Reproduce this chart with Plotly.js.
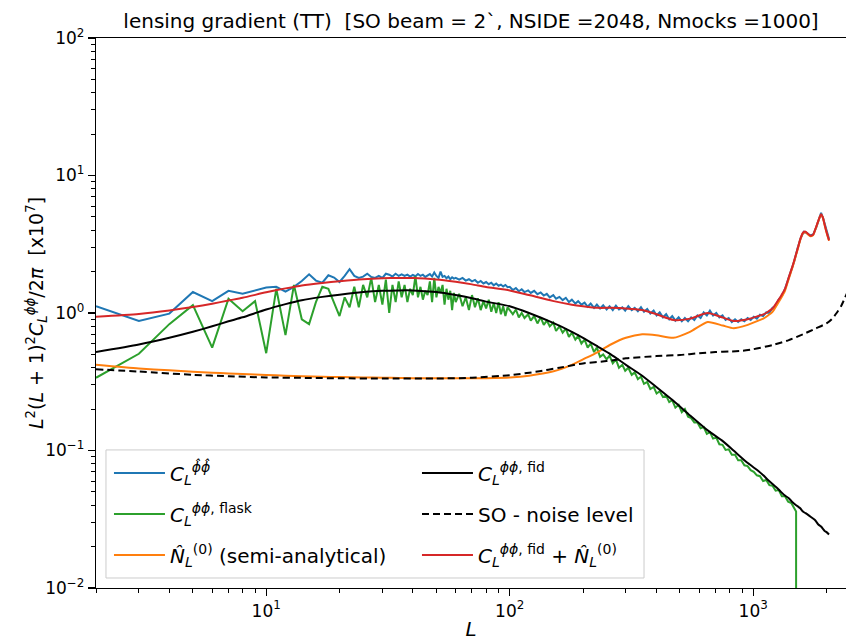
<!DOCTYPE html>
<html>
<head>
<meta charset="utf-8">
<script src="https://cdn.plot.ly/plotly-3.0.1.min.js"></script>
<style>
  html, body { margin: 0; padding: 0; background: #fff; }
  #chart { width: 846px; height: 641px; }
</style>
</head>
<body>
<div id="chart"></div>
<script>
// ---- multipoles of the measured spectra ----
const L_low = [2,3,4,5,6,7,8,9,10,11,12,13,14,15,16,17,18,19,20,21,22,23,24,25,26,27,28,29,30,
  31,32,33,34,35,36,37,38,39,40,41,42,43,44,45,46,47,48,49,50,51,52,53,54,55,56,57,58,59,60,
  62,64,66,68,70,72,74,76,78,80,82,84,86,88,90,92,94,96,98];
const L_high = [100,103,106,109,112,115,119,122,126,130,134,138,142,146,151,155,160,165,170,175,
  180,186,191,197,203,209,215,222,228,235,242,250,257,265,273,281,290,298,307,317,
  326,336,346,356,367,378,390,401,413,426,439,452,465,479,494,509,524,540,556,573,
  590,608,626,645,664,684,705,726,748,770,793,817,842,867,893,920,948,976,1005,1035,
  1066,1098,1131,1165,1200,1236,1273,1311,1351,1391,1433,1476,1520,1566,1613,1661,1711,1762,1815,1860,
  1900,1940,1980,2020,2048];

// reconstructed lensing spectrum  C_L^{phi-hat phi-hat}
const clpp_rec_low = [1.12,0.875,0.99,1.42,1.22,1.45,1.38,1.46,1.53,1.55,1.43,1.55,
  1.71,1.91,1.72,1.66,1.88,1.81,1.68,1.86,2.08,1.86,1.80,1.84,1.93,1.83,1.80,1.86,1.80,
  1.93,1.90,1.84,1.93,1.86,1.91,1.86,1.90,1.84,1.89,1.85,1.92,1.86,1.90,1.83,1.88,1.92,1.84,1.97,1.86,
  1.80,2.00,1.83,1.86,1.79,1.84,1.76,1.82,1.78,1.80,
  1.75,1.80,1.72,1.76,1.70,1.74,1.66,1.71,1.64,1.68,1.62,1.66,1.59,1.64,1.58,1.61,1.56,1.60,1.54];
const clpp_rec_high = [1.55,1.47,1.52,1.44,1.49,1.42,1.46,1.40,1.45,1.37,
  1.41,1.34,1.38,1.30,1.35,1.27,1.31,1.24,1.29,1.20,
  1.25,1.17,1.22,1.15,1.19,1.11,1.17,1.09,1.15,1.08,
  1.14,1.06,1.12,1.05,1.13,1.06,1.10,1.04,1.12,1.05,
  1.09,1.03,1.10,1.02,1.07,0.99,1.04,0.96,1.01,0.93,
  0.98,0.90,0.95,0.88,0.93,0.87,0.92,0.87,0.93,0.89,
  0.96,0.92,1.01,0.96,1.04,0.96,1.00,0.93,0.96,0.89,
  0.92,0.86,0.90,0.86,0.90,0.87,0.92,0.89,0.94,0.91,
  0.97,0.95,1.01,1.00,1.09,1.12,1.25,1.33,1.50,1.73,
  2.05,2.40,2.95,3.50,3.90,3.82,3.66,3.72,4.20,4.75,
  5.35,4.85,4.20,3.70,3.45];

// FLASK input spectrum (maps band-limited at L = 1500, zero above)
const clpp_flask_low = [0.338,0.505,0.83,1.14,0.56,1.27,1.03,1.22,0.51,1.50,0.69,1.60,
  0.90,0.83,1.20,1.55,1.50,1.20,0.95,1.30,1.10,1.55,1.10,1.60,1.30,1.80,1.20,1.60,1.15,
  1.75,1.00,1.60,1.20,1.70,1.30,1.60,1.20,1.50,1.35,1.85,1.30,1.55,1.25,1.45,1.35,1.70,1.20,1.80,1.30,
  1.55,1.40,1.60,1.15,1.50,1.25,1.45,1.05,1.40,1.20,
  1.38,1.12,1.30,1.05,1.35,1.10,1.28,1.05,1.22,1.08,1.25,1.02,1.18,1.00,1.20,0.98,1.12,0.95,1.10];
const clpp_flask_high = [1.05,0.98,1.06,0.93,1.00,0.92,0.98,0.88,0.95,0.84,
  0.93,0.82,0.88,0.80,0.85,0.74,0.80,0.72,0.77,0.67,
  0.72,0.64,0.68,0.60,0.64,0.56,0.60,0.52,0.56,0.48,
  0.50,0.46,0.49,0.43,0.46,0.40,0.42,0.38,0.40,0.355,
  0.37,0.33,0.345,0.305,0.315,0.28,0.29,0.26,0.27,0.245,
  0.25,0.225,0.232,0.205,0.215,0.19,0.20,0.176,0.172,0.16,
  0.16,0.145,0.148,0.132,0.136,0.122,0.124,0.111,0.110,0.101,
  0.102,0.093,0.093,0.085,0.085,0.078,0.077,0.072,0.070,0.066,
  0.065,0.060,0.061,0.056,0.0555,0.051,0.0515,0.0465,0.0465,0.0425,
  0.0415,0.038];
const L_flask_tail = [1500, 1501];
const clpp_flask_tail = [0.036, 1e-6];

// ---- theory curves ----
const L_th = [2,3,4,5,6,7,8,10,12,14,17,20,25,30,35,40,50,60,70,80,
  100,120,150,180,200,230,260,300,350,400,470,550,650,750,830,950,1050,1100,1150,1200,
  1260,1300,1350,1400,1450,1500,1530,1560,1600,1640,1680,1720,1760,1800,1850,1900,1930,1965,2000,2048];
const clpp_fid = [0.52,0.59,0.66,0.73,0.80,0.87,0.93,1.06,1.16,1.24,
  1.31,1.36,1.42,1.45,1.46,1.46,1.42,1.35,1.28,1.21,
  1.12,1.00,0.85,0.73,0.66,0.57,0.50,0.42,0.35,0.29,
  0.23,0.18,0.14,0.117,0.10,0.081,0.071,0.066,0.061,0.057,
  0.053,0.050,0.047,0.045,0.042,0.040,0.039,0.038,0.036,0.035,
  0.034,0.033,0.032,0.031,0.029,0.028,0.027,0.026,0.0255,0.0245];
const n0_semi = [0.42,0.395,0.383,0.374,0.368,0.363,0.36,0.354,0.35,0.347,
  0.344,0.342,0.34,0.338,0.337,0.336,0.335,0.335,0.335,0.336,
  0.34,0.35,0.375,0.42,0.46,0.52,0.59,0.66,0.70,0.69,
  0.66,0.73,0.86,0.81,0.775,0.82,0.88,0.91,0.96,1.02,
  1.17,1.28,1.45,1.78,2.15,2.65,3.0,3.4,3.8,3.87,
  3.72,3.62,3.67,4.05,4.65,5.2,4.95,4.35,3.85,3.35];

// SO noise level
const L_noise = [2,3,5,7,10,15,20,30,50,70,100,130,160,200,250,300,400,500,600,700,
  800,900,1000,1200,1400,1600,1800,2000,2100,2200,2300,2450];
const nl_so = [0.39,0.375,0.355,0.347,0.34,0.337,0.335,0.334,0.334,0.338,
  0.353,0.375,0.40,0.43,0.447,0.468,0.486,0.495,0.51,0.52,
  0.525,0.53,0.545,0.585,0.635,0.70,0.77,0.84,0.90,1.00,1.13,1.45];

// total = fiducial + N0
const clpp_total = clpp_fid.map((v, i) => v + n0_semi[i]);

const L_obs = L_low.concat(L_high);
const clpp_rec = clpp_rec_low.concat(clpp_rec_high);
const L_flask = L_low.concat(L_high.slice(0, clpp_flask_high.length), L_flask_tail);
const clpp_flask = clpp_flask_low.concat(clpp_flask_high, clpp_flask_tail);

const FONT = 'DejaVu Sans, sans-serif';
const phi = '\u03D5';
const hat = '\u0302';

const traces = [
  { x: L_obs, y: clpp_rec, mode: 'lines', line: { color: '#1f77b4', width: 2 },
    name: '<i>C</i><sub><i>L</i></sub><sup><i>' + phi + hat + phi + hat + '</i></sup>',
    legend: 'legend', legendrank: 1 },
  { x: L_flask, y: clpp_flask, mode: 'lines', line: { color: '#2ca02c', width: 2 },
    name: '<i>C</i><sub><i>L</i></sub><sup><i>' + phi + phi + '</i>, flask</sup>',
    legend: 'legend2', legendrank: 1 },
  { x: L_th, y: n0_semi, mode: 'lines', line: { color: '#ff7f0e', width: 2, shape: 'spline', smoothing: 0.6 },
    name: '<i>N' + hat + '</i><sub><i>L</i></sub><sup>(0)</sup> (semi-analytical)',
    legend: 'legend3', legendrank: 1 },
  { x: L_th, y: clpp_fid, mode: 'lines', line: { color: '#000000', width: 2, shape: 'spline', smoothing: 0.6 },
    name: '<i>C</i><sub><i>L</i></sub><sup><i>' + phi + phi + '</i>, fid</sup>',
    legend: 'legend', legendrank: 2 },
  { x: L_noise, y: nl_so, mode: 'lines', line: { color: '#000000', width: 2, dash: '7px,4px', shape: 'spline', smoothing: 0.6 },
    name: 'SO - noise level',
    legend: 'legend2', legendrank: 2 },
  { x: L_th, y: clpp_total, mode: 'lines', line: { color: '#d62728', width: 2, shape: 'spline', smoothing: 0.6 },
    name: '<i>C</i><sub><i>L</i></sub><sup><i>' + phi + phi + '</i>, fid</sup> + <i>N' + hat + '</i><sub><i>L</i></sub><sup>(0)</sup>',
    legend: 'legend3', legendrank: 2 }
];

// minor tick positions on the log axes
function minorTicks(lo, hi) {
  const out = [];
  for (let d = lo; d < hi; d++) {
    for (let m = 2; m <= 9; m++) out.push(m * Math.pow(10, d));
  }
  return out;
}

const xTickVals = [10, 100, 1000];
const xTickText = ['10<sup>1</sup>', '10<sup>2</sup>', '10<sup>3</sup>'];
const yTickVals = [0.01, 0.1, 1, 10, 100];
const yTickText = ['10<sup>\u22122</sup>', '10<sup>\u22121</sup>', '10<sup>0</sup>', '10<sup>1</sup>', '10<sup>2</sup>'];

// one legend per row so the rows can be spaced freely inside the shared frame
function legendRow(y) {
  return {
    orientation: 'h', x: 0.0173, xanchor: 'left', y: y, yanchor: 'middle',
    bgcolor: 'rgba(0,0,0,0)', borderwidth: 0, entrywidth: 242, itemwidth: 51,
    font: { family: FONT, size: 20, color: '#000' }, traceorder: 'normal'
  };
}

const yTitle = '<i>L</i><sup>2</sup>(<i>L</i> + 1)<sup>2</sup><i>C</i><sub><i>L</i></sub><sup><i>' +
  phi + phi + '</i></sup>/2<i>\u03C0</i>  [x10<sup>7</sup>]';

const layout = {
  width: 846, height: 641,
  margin: { l: 96, r: 0, t: 38, b: 53 },
  paper_bgcolor: '#fff', plot_bgcolor: '#fff',
  font: { family: FONT, color: '#000' },
  showlegend: true,
  title: {
    text: 'lensing gradient (TT)  [SO beam = 2`, NSIDE =2048, Nmocks =1000]',
    font: { family: FONT, size: 20, color: '#000' },
    x: 0.5, xref: 'paper', xanchor: 'center', y: 0.968, yref: 'container', yanchor: 'middle'
  },
  xaxis: {
    type: 'log', range: [Math.log10(2), 3.381],
    showgrid: false, zeroline: false,
    showline: true, linecolor: '#000', linewidth: 1.2, mirror: true,
    ticks: 'outside', ticklen: 7, tickwidth: 1.2, tickcolor: '#000',
    tickmode: 'array', tickvals: xTickVals, ticktext: xTickText,
    tickfont: { family: FONT, size: 17, color: '#000' },
    minor: { tickmode: 'array', tickvals: minorTicks(0, 4), ticks: 'outside', ticklen: 4, tickwidth: 1, tickcolor: '#000', showgrid: false },
    title: { text: '<i>L</i>', font: { family: FONT, size: 20, color: '#000' }, standoff: 4 }
  },
  yaxis: {
    type: 'log', range: [-2, 2],
    showgrid: false, zeroline: false,
    showline: true, linecolor: '#000', linewidth: 1.2, mirror: true,
    ticks: 'outside', ticklen: 7, tickwidth: 1.2, tickcolor: '#000',
    tickmode: 'array', tickvals: yTickVals, ticktext: yTickText,
    tickfont: { family: FONT, size: 17, color: '#000' },
    minor: { tickmode: 'array', tickvals: minorTicks(-2, 2), ticks: 'outside', ticklen: 4, tickwidth: 1, tickcolor: '#000', showgrid: false }
  },
  annotations: [{
    text: yTitle, textangle: -90, showarrow: false,
    xref: 'paper', yref: 'paper', x: -0.08, y: 0.5, xanchor: 'center', yanchor: 'middle',
    font: { family: FONT, size: 19, color: '#000' }
  }],
  legend: legendRow(0.209),
  legend2: legendRow(0.1345),
  legend3: legendRow(0.06),
  shapes: [{
    type: 'rect', xref: 'paper', yref: 'paper',
    x0: 0.0133, x1: 0.7307, y0: 0.0182, y1: 0.251,
    line: { color: '#cccccc', width: 1 }, fillcolor: 'rgba(255,255,255,0.8)', layer: 'below'
  }]
};

Plotly.newPlot('chart', traces, layout, { staticPlot: true, displayModeBar: false });
</script>
</body>
</html>
